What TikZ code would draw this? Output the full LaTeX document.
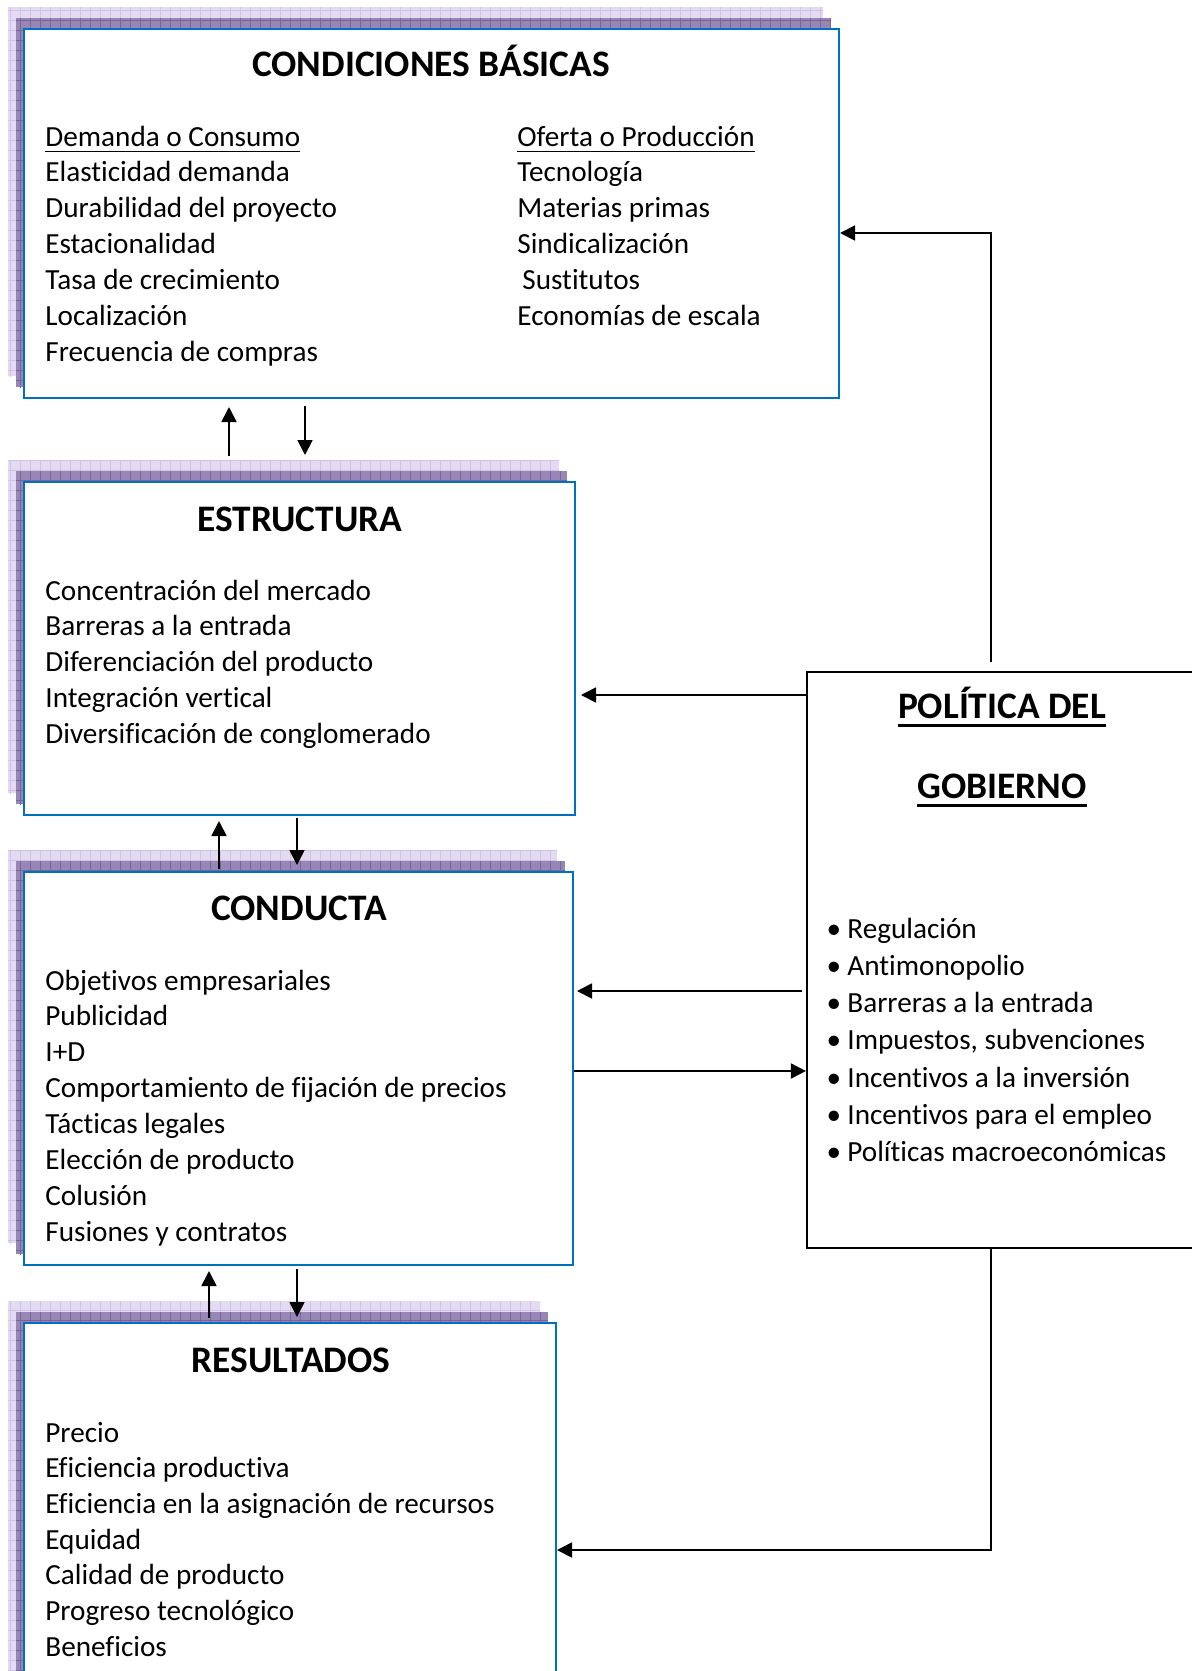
\documentclass[tikz,border=0pt]{standalone}
\usepackage{fontspec}
\setmainfont{Carlito}[Ligatures=NoCommon]
\usetikzlibrary{arrows.meta,fit,calc}

\definecolor{boxblue}{RGB}{0,112,192}
\definecolor{shadelight}{RGB}{228,218,242}
\definecolor{shadelightgrid}{RGB}{206,194,230}
\definecolor{shadedark}{RGB}{152,134,182}
\definecolor{shadedarkgrid}{RGB}{120,102,152}

% underlined text (thin for items, thick for headings)
\newcommand{\undl}[1]{\leavevmode\setbox0=\hbox{#1}\rlap{\rule[-3.2pt]{\wd0}{0.7pt}}\box0}
\newcommand{\undlb}[1]{\leavevmode\setbox0=\hbox{#1}\rlap{\rule[-4.6pt]{\wd0}{1.7pt}}\box0}

\begin{document}
\begin{tikzpicture}[x=0.5pt, y=-0.5pt,
  arrow/.style={-{Triangle[length=7.5pt,width=7.5pt]}, line width=0.9pt},
  bluebox/.style={draw=boxblue, line width=1pt, fill=white, inner sep=0pt},
  govbox/.style={draw=black, line width=1.1pt, fill=white, inner sep=0pt},
  heading/.style={font=\fontsize{18.7}{22}\selectfont\bfseries, anchor=base, inner sep=0pt},
  item/.style={font=\fontsize{14.6}{17}\selectfont, anchor=base west, inner sep=0pt},
]

\useasboundingbox (0,0) rectangle (1192,1671);
\clip (0,0) rectangle (1192,1671);

% === SHADOWS ===
\foreach \xa/\ya/\xb/\yb in {24/29/839/398, 24/482/575/815, 24/872/573/1265, 24/1323/556/1720}{
  \begin{scope}
    \clip (\xa-16,\ya-22) rectangle (\xb-16,\yb-22);
    \fill[shadelight] (\xa-16,\ya-22) rectangle (\xb-16,\yb-22);
    \draw[shadelightgrid, line width=0.4pt, step=5pt] (\xa-30,\ya-30) grid (\xb,\yb);
  \end{scope}
  \begin{scope}
    \clip (\xa-8,\ya-11) rectangle (\xb-8,\yb-11);
    \fill[shadedark] (\xa-8,\ya-11) rectangle (\xb-8,\yb-11);
    \draw[shadedarkgrid, line width=0.4pt, step=5pt] (\xa-30,\ya-30) grid (\xb,\yb);
  \end{scope}
}

% === BOXES ===
\node[bluebox, fit={(24,29) (839,398)}] (basicas) {};
\node[bluebox, fit={(24,482) (575,815)}] (estructura) {};
\node[bluebox, fit={(24,872) (573,1265)}] (conducta) {};
\node[bluebox, fit={(24,1323) (556,1720)}] (resultados) {};
\node[govbox, fit={(807,672) (1215,1248)}] (gobierno) {};

% === CONDICIONES BASICAS ===
\node[heading] (tbasicas) at (431,76) {CONDICIONES BÁSICAS};
\foreach \t [count=\i] in {\undl{Demanda o Consumo}, Elasticidad demanda, Durabilidad del proyecto,
  Estacionalidad, Tasa de crecimiento, Localización, Frecuencia de compras}
  \node[item] (dem\i) at (45,{146+35.9*(\i-1)}) {\t};
\foreach \t [count=\i] in {\undl{Oferta o Producción}, Tecnología, Materias primas,
  Sindicalización, \hspace{2.5pt}Sustitutos, Economías de escala}
  \node[item] (ofe\i) at (517,{146+35.9*(\i-1)}) {\t};

% === ESTRUCTURA ===
\node[heading] (testructura) at (300,531) {ESTRUCTURA};
\foreach \t [count=\i] in {Concentración del mercado, Barreras a la entrada, Diferenciación del producto,
  Integración vertical, Diversificación de conglomerado}
  \node[item] (est\i) at (45,{600+35.9*(\i-1)}) {\t};

% === CONDUCTA ===
\node[heading] (tconducta) at (299,920) {CONDUCTA};
\foreach \t [count=\i] in {Objetivos empresariales, Publicidad, I+D, Comportamiento de fijación de precios,
  Tácticas legales, Elección de producto, Colusión, Fusiones y contratos}
  \node[item] (con\i) at (45,{990+35.9*(\i-1)}) {\t};

% === RESULTADOS ===
\node[heading] (tresultados) at (291,1372) {RESULTADOS};
\foreach \t [count=\i] in {Precio, Eficiencia productiva, Eficiencia en la asignación de recursos, Equidad,
  Calidad de producto, Progreso tecnológico, Beneficios}
  \node[item] (res\i) at (45,{1442+35.7*(\i-1)}) {\t};

% === POLITICA DEL GOBIERNO ===
\node[heading] (tgob1) at (1002,718) {\undlb{POLÍTICA DEL}};
\node[heading] (tgob2) at (1002,798) {\undlb{GOBIERNO}};
\foreach \t [count=\i] in {Regulación, Antimonopolio, Barreras a la entrada, {Impuestos, subvenciones},
  Incentivos a la inversión, Incentivos para el empleo, Políticas macroeconómicas}{
  \node[item] (pol\i) at (847,{938+37.3*(\i-1)}) {\t};
  \node[item, anchor=base] (bul\i) at (834,{938+37.3*(\i-1)}) {\textbullet};
}

% === ARROWS ===
\draw[arrow, shorten <=12.5pt, shorten >=4pt] (estructura.north -| 229,0) -- (basicas.south -| 229,0);
\draw[arrow, shorten <=3.5pt, shorten >=13pt] (basicas.south -| 305,0) -- (estructura.north -| 305,0);
\draw[arrow, shorten <=1pt, shorten >=2.5pt] (conducta.north -| 219,0) -- (estructura.south -| 219,0);
\draw[arrow, shorten <=1pt, shorten >=3pt] (estructura.south -| 297,0) -- (conducta.north -| 297,0);
\draw[arrow, shorten <=2pt, shorten >=2.5pt] (resultados.north -| 209,0) -- (conducta.south -| 209,0);
\draw[arrow, shorten <=1.5pt, shorten >=2.5pt] (conducta.south -| 297,0) -- (resultados.north -| 297,0);

\draw[arrow, shorten <=4.5pt] (gobierno.north -| 991,0) |- (basicas.east |- 0,233);
\draw[arrow, shorten >=2.5pt] (gobierno.west |- 0,695) -- (estructura.east |- 0,695);
\draw[arrow, shorten <=2pt, shorten >=1.5pt] (gobierno.west |- 0,991) -- (conducta.east |- 0,991);
\draw[arrow] (conducta.east |- 0,1071) -- (gobierno.west |- 0,1071);
\draw[arrow] (gobierno.south -| 991,0) |- (resultados.east |- 0,1550);
\end{tikzpicture}
\end{document}
